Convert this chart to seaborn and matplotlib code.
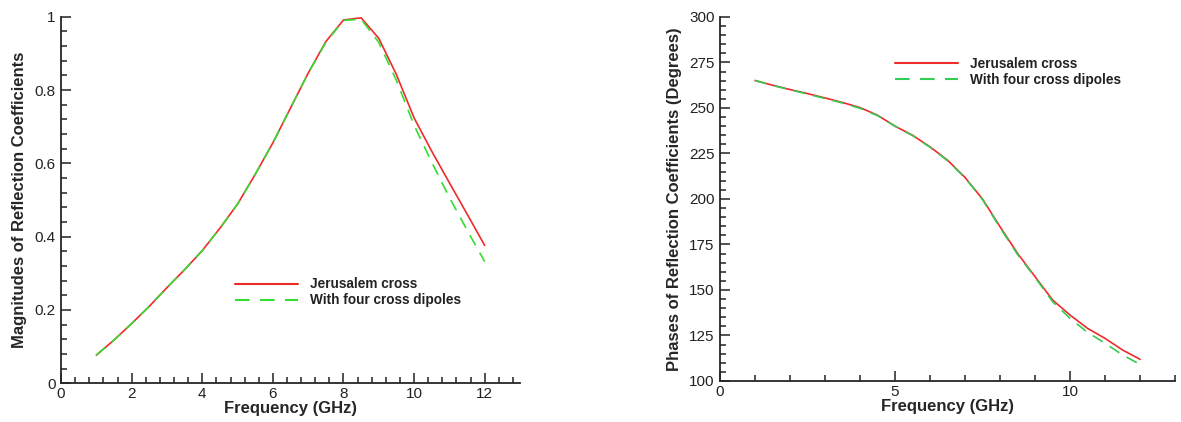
import numpy as np
import pandas as pd
import seaborn as sns
import matplotlib.pyplot as plt
from matplotlib.ticker import MultipleLocator, FuncFormatter
from matplotlib.lines import Line2D

# Frequency samples (GHz)
freq = [1, 1.5, 2, 2.5, 3, 3.5, 4, 4.5, 5, 5.5, 6, 6.5, 7, 7.5, 8, 8.5, 9,
        9.5, 10, 10.5, 11, 11.5, 12]

# Reflection coefficient magnitudes
mag_jerusalem = [0.077, 0.118, 0.163, 0.210, 0.261, 0.310, 0.362, 0.423, 0.489,
                 0.570, 0.656, 0.751, 0.846, 0.932, 0.991, 0.997, 0.941,
                 0.842, 0.724, 0.633, 0.547, 0.462, 0.376]
mag_dipoles = [0.077, 0.118, 0.163, 0.210, 0.261, 0.310, 0.362, 0.423, 0.489,
               0.570, 0.656, 0.751, 0.846, 0.930, 0.990, 0.993, 0.930,
               0.826, 0.704, 0.603, 0.507, 0.418, 0.332]

# Reflection coefficient phases (degrees)
ph_jerusalem = [265.1, 262.5, 260.1, 257.9, 255.5, 253.0, 250.2, 246.0, 240.0,
                235.0, 228.6, 221.3, 211.8, 199.9, 184.7, 170.1, 157.3,
                144.5, 136.2, 128.9, 123.4, 117.0, 111.9]
ph_dipoles = [265.1, 262.4, 260.0, 257.6, 255.2, 252.7, 249.8, 245.8, 240.0,
              234.8, 228.4, 221.0, 211.6, 199.6, 184.2, 169.5, 156.9,
              143.6, 134.4, 126.7, 120.7, 114.3, 109.1]

series_names = ["Jerusalem cross", "With four cross dipoles"]


def long_frame(x, a, b):
    return pd.DataFrame({
        "freq": x + x,
        "value": a + b,
        "series": [series_names[0]] * len(x) + [series_names[1]] * len(x),
    })


mag_df = long_frame(freq, mag_jerusalem, mag_dipoles)
ph_df = long_frame(freq, ph_jerusalem, ph_dipoles)

sns.set_theme(style="ticks")
plt.rcParams["font.family"] = ["Liberation Sans", "DejaVu Sans"]
plt.rcParams["axes.linewidth"] = 1.3
plt.rcParams["text.color"] = "#222222"

fig = plt.figure(figsize=(11.81, 4.22), dpi=100)
ax1 = fig.add_axes([0.0517, 0.0917, 0.3886, 0.8687])
ax2 = fig.add_axes([0.6097, 0.0972, 0.3853, 0.8626])

dash_map = {series_names[0]: "", series_names[1]: (7, 5)}


def draw(ax, df, colors):
    sns.lineplot(data=df, x="freq", y="value", hue="series", style="series",
                 palette=dict(zip(series_names, colors)), dashes=dash_map,
                 linewidth=1.2, ax=ax, legend=False, sort=False)
    for s in ["top", "right"]:
        ax.spines[s].set_visible(False)
    ax.tick_params(which="both", direction="in", colors="#222222",
                   labelsize=11, width=1.1)
    ax.tick_params(which="major", length=7)
    ax.tick_params(which="minor", length=4.5)
    ax.tick_params(axis="y", pad=4)
    ax.tick_params(axis="x", pad=3)
    ax.set_xlabel("Frequency (GHz)", fontsize=12, fontweight="bold", labelpad=0)


def add_legend(ax, colors, anchor):
    handles = [
        Line2D([], [], color=colors[0], lw=1.5),
        Line2D([], [], color=colors[1], lw=1.5, dashes=(7, 5)),
    ]
    ax.legend(handles, series_names, loc="center left", bbox_to_anchor=anchor,
              frameon=False, borderpad=0, borderaxespad=0, handlelength=4.6,
              handletextpad=0.9, labelspacing=0.15,
              prop={"weight": "bold", "size": 9.8})


# Magnitude panel
left_colors = ["#ee2b2b", "#33dd33"]
draw(ax1, mag_df, left_colors)
ax1.set_xlim(0, 13)
ax1.set_ylim(0, 1)
ax1.xaxis.set_major_locator(MultipleLocator(2))
ax1.xaxis.set_minor_locator(MultipleLocator(0.4))
ax1.yaxis.set_major_locator(MultipleLocator(0.2))
ax1.yaxis.set_minor_locator(MultipleLocator(0.04))
ax1.yaxis.set_major_formatter(FuncFormatter(lambda v, p: f"{v:g}"))
ax1.set_ylabel("Magnitudes of Reflection Coefficients", fontsize=12,
               fontweight="bold", labelpad=5)
add_legend(ax1, left_colors, (0.379, 0.248))

# Phase panel
right_colors = ["#ee2b2b", "#33cc55"]
draw(ax2, ph_df, right_colors)
ax2.set_xlim(0, 13)
ax2.set_ylim(100, 300)
ax2.xaxis.set_major_locator(MultipleLocator(5))
ax2.xaxis.set_minor_locator(MultipleLocator(1))
ax2.yaxis.set_major_locator(MultipleLocator(25))
ax2.yaxis.set_minor_locator(MultipleLocator(5))
ax2.set_ylabel("Phases of Reflection Coefficients (Degrees)", fontsize=12,
               fontweight="bold", labelpad=5)
add_legend(ax2, right_colors, (0.385, 0.850))

fig.savefig("out.png", dpi=100)
